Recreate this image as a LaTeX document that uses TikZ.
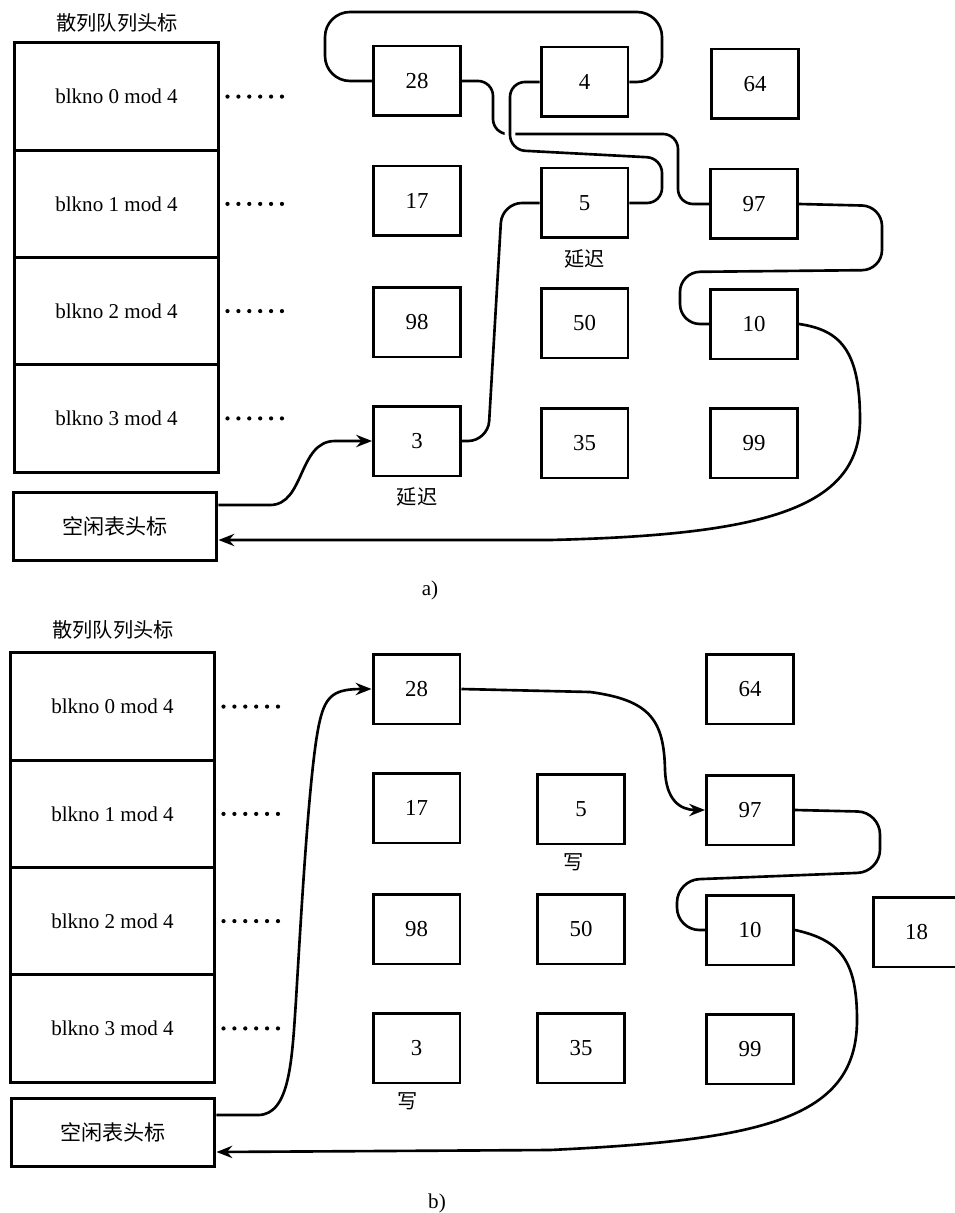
\documentclass[tikz,border=0pt]{standalone}
\usepackage{fontspec}
\setmainfont{Liberation Serif}
\newfontfamily\cjk{Noto Sans CJK SC}
\usetikzlibrary{positioning,arrows.meta}

\begin{document}
\begin{tikzpicture}[x=0.02cm,y=-0.02cm,>={Stealth[length=9pt,width=7pt,inset=3pt]},
  cabecera/.style={draw,line width=1.7pt,minimum width=4.1cm,minimum height=2.145cm,
    inner sep=0pt,font=\fontsize{12}{14}\selectfont},
  libre/.style={draw,line width=1.7pt,minimum width=4.08cm,minimum height=1.36cm,
    inner sep=0pt,font=\cjk\fontsize{12}{14}\selectfont},
  bufer/.style={draw,line width=1.7pt,minimum width=1.74cm,minimum height=1.4cm,
    inner sep=0pt,font=\fontsize{13}{15}\selectfont},
  etiqueta/.style={font=\cjk\fontsize{11.5}{13}\selectfont},
  puntos/.style={line width=2.4pt,line cap=round,dash pattern=on 0pt off 6.2pt,shorten <=4pt},
  enlace/.style={line width=1.5pt}]

\useasboundingbox (0,0) rectangle (955,1213);

%---------------------------------
% a) CABECERAS DE LAS COLAS HASH
%---------------------------------
\node[etiqueta] (atit) at (117,23) {散列队列头标};

\node[cabecera] (ah0) at (116.5,96.6)  {blkno 0 mod 4};
\node[cabecera] (ah1) at (116.5,203.9) {blkno 1 mod 4};
\node[cabecera] (ah2) at (116.5,311.1) {blkno 2 mod 4};
\node[cabecera] (ah3) at (116.5,418.4) {blkno 3 mod 4};

\draw[puntos] (ah0.east) -- ++(72,0);
\draw[puntos] (ah1.east) -- ++(72,0);
\draw[puntos] (ah2.east) -- ++(72,0);
\draw[puntos] (ah3.east) -- ++(72,0);

\node[libre] (afree) at (115,526.5) {空闲表头标};

% bufferes
\node[bufer] (a28) at (417,81)    {28};
\node[bufer] (a4)  at (584.5,82)  {4};
\node[bufer] (a64) at (755,84)    {64};
\node[bufer] (a17) at (417,201)   {17};
\node[bufer] (a5)  at (584.5,203) {5};
\node[bufer] (a97) at (754,204)   {97};
\node[bufer] (a98) at (417,322)   {98};
\node[bufer] (a50) at (584.5,323) {50};
\node[bufer] (a10) at (754,324)   {10};
\node[bufer] (a3)  at (417,441)   {3};
\node[bufer] (a35) at (584.5,443) {35};
\node[bufer] (a99) at (754,443)   {99};

\node[etiqueta,below=2pt] at (a5.south) {延迟};
\node[etiqueta,below=2pt] at (a3.south) {延迟};

% enlaces
\draw[enlace,rounded corners=0.3cm] (a28.east) -- (493,81) -- (493,134) -- (678,134) -- (678,204) -- (a97.west);
\draw[enlace,rounded corners=0.5cm] (a4.east) -- (662,82) -- (662,12) -- (325,12) -- (325,81) -- (a28.west);
\draw[enlace,rounded corners=0.3cm,preaction={draw=white,line width=6pt,shorten <=3pt,shorten >=3pt}]
  (a4.west) -- (510,82) -- (510,150) -- (662,158) -- (662,203) -- (a5.east);
\draw[enlace,rounded corners=0.4cm] (a5.west) -- (502,203) -- (488,441) -- (a3.east);
\draw[enlace,rounded corners=0.4cm] (a97.east) -- (882,206) -- (882,270) -- (680,272) -- (680,324) -- (a10.west);
\draw[enlace,->] (a10.east) .. controls (840,330) and (860,350) .. (860,420)
  .. controls (860,510) and (760,535) .. (550,540) -- ([yshift=-0.27cm]afree.east);
\draw[enlace,->] ([yshift=0.43cm]afree.east) -- (270,505) .. controls (305,505) and (298,441) .. (335,441) -- (a3.west);

\node[font=\fontsize{12}{14}\selectfont] (alab) at (430,590) {a)};

%---------------------------------
% b) CABECERAS DE LAS COLAS HASH
%---------------------------------
\node[etiqueta] (btit) at (113,630) {散列队列头标};

\node[cabecera] (bh0) at (112.5,706.6)  {blkno 0 mod 4};
\node[cabecera] (bh1) at (112.5,813.9)  {blkno 1 mod 4};
\node[cabecera] (bh2) at (112.5,921.1)  {blkno 2 mod 4};
\node[cabecera] (bh3) at (112.5,1028.4) {blkno 3 mod 4};

\draw[puntos] (bh0.east) -- ++(72,0);
\draw[puntos] (bh1.east) -- ++(72,0);
\draw[puntos] (bh2.east) -- ++(72,0);
\draw[puntos] (bh3.east) -- ++(72,0);

\node[libre] (bfree) at (113,1132) {空闲表头标};

% bufferes
\node[bufer] (b28) at (416.5,689) {28};
\node[bufer] (b64) at (750,689)   {64};
\node[bufer] (b17) at (416.5,808) {17};
\node[bufer] (b5)  at (581,809)   {5};
\node[bufer] (b97) at (750,810)   {97};
\node[bufer] (b98) at (416.5,929) {98};
\node[bufer] (b50) at (581,929)   {50};
\node[bufer] (b10) at (750,930)   {10};
\node[bufer] (b18) at (916.5,932) {18};
\node[bufer] (b3)  at (416.5,1048) {3};
\node[bufer] (b35) at (581,1048)  {35};
\node[bufer] (b99) at (750,1049)  {99};

\node[etiqueta,below=1pt,xshift=-4pt] at (b5.south) {写};
\node[etiqueta,below=1pt,xshift=-5pt] at (b3.south) {写};

% enlaces
\draw[enlace,->] ([yshift=0.34cm]bfree.east) -- (258,1115) .. controls (290,1115) and (292,1060) .. (296,1000)
  .. controls (302,900) and (310,760) .. (320,720) .. controls (326,695) and (335,689) .. (b28.west);
\draw[enlace,->] (b28.east) -- (590,692) .. controls (650,700) and (664,720) .. (665,770)
  .. controls (666,800) and (680,810) .. (b97.west);
\draw[enlace,rounded corners=0.45cm] (b97.east) -- (880,812) -- (880,872) -- (677,880) -- (677,930) -- (b10.west);
\draw[enlace,->] (b10.east) .. controls (840,940) and (857,960) .. (857,1020)
  .. controls (857,1120) and (760,1140) .. (550,1150) -- ([yshift=-0.4cm]bfree.east);

\node[font=\fontsize{12}{14}\selectfont] (blab) at (437,1203) {b)};

\end{tikzpicture}
\end{document}
